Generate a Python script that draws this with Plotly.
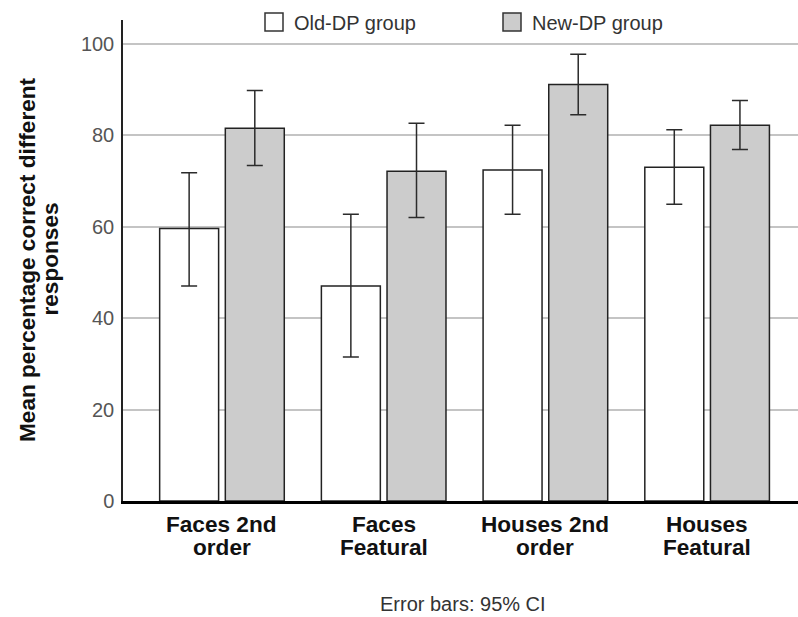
import plotly.graph_objects as go

categories = ["Faces 2nd order", "Faces Featural", "Houses 2nd order", "Houses Featural"]
cat_line1 = ["Faces 2nd", "Faces", "Houses 2nd", "Houses"]
cat_line2 = ["order", "Featural", "order", "Featural"]

old_mean = [59.6, 47.0, 72.4, 73.0]
old_ci_low = [47.0, 31.5, 62.7, 64.9]
old_ci_high = [71.8, 62.7, 82.2, 81.2]

new_mean = [81.5, 72.1, 91.1, 82.2]
new_ci_low = [73.4, 62.0, 84.5, 76.9]
new_ci_high = [89.8, 82.6, 97.7, 87.6]

y_ticks = [0, 20, 40, 60, 80, 100]

FONT = "Liberation Sans, Arial, sans-serif"
x_idx = list(range(len(categories)))

def err(mean, lo, hi):
    return dict(
        type="data", symmetric=False,
        array=[h - m for m, h in zip(mean, hi)],
        arrayminus=[m - l for m, l in zip(mean, lo)],
        color="#2b2b2b", thickness=1.5, width=8,
    )

fig = go.Figure()
fig.add_trace(go.Bar(
    x=x_idx, y=old_mean, name="Old-DP group",
    marker=dict(color="#ffffff", line=dict(color="#222222", width=1.5)),
    error_y=err(old_mean, old_ci_low, old_ci_high),
))
fig.add_trace(go.Bar(
    x=x_idx, y=new_mean, name="New-DP group",
    marker=dict(color="#cccccc", line=dict(color="#222222", width=1.5)),
    error_y=err(new_mean, new_ci_low, new_ci_high),
))

W, H = 798, 617
L, R, T, B = 123, 0, 20, 116
pw, ph = W - L - R, H - T - B

def px_x(p):
    return (p - L) / pw

def px_y(p):
    return (H - B - p) / ph

LABEL_SIZE = 22.6

annotations = []
for i in x_idx:
    annotations.append(dict(x=i, y=px_y(524), xref="x", yref="paper", text="<b>" + cat_line1[i] + "</b>",
                            showarrow=False, xanchor="center", yanchor="middle",
                            font=dict(family=FONT, size=LABEL_SIZE, color="#111111")))
    annotations.append(dict(x=i, y=px_y(547), xref="x", yref="paper", text="<b>" + cat_line2[i] + "</b>",
                            showarrow=False, xanchor="center", yanchor="middle",
                            font=dict(family=FONT, size=LABEL_SIZE, color="#111111")))

# y-axis title (two lines)
annotations.append(dict(x=px_x(27.5), y=px_y(259.5), xref="paper", yref="paper",
                        text="<b>Mean percentage correct different</b>", textangle=-90,
                        showarrow=False, xanchor="center", yanchor="middle",
                        font=dict(family=FONT, size=LABEL_SIZE, color="#111111")))
annotations.append(dict(x=px_x(50), y=px_y(259.5), xref="paper", yref="paper",
                        text="<b>responses</b>", textangle=-90,
                        showarrow=False, xanchor="center", yanchor="middle",
                        font=dict(family=FONT, size=LABEL_SIZE, color="#111111")))

# footnote
annotations.append(dict(x=px_x(463), y=px_y(604), xref="paper", yref="paper",
                        text="Error bars: 95% CI", showarrow=False,
                        xanchor="center", yanchor="middle",
                        font=dict(family=FONT, size=20, color="#333333")))

# legend (manual)
shapes = []
legend_items = [("Old-DP group", "#ffffff", 265), ("New-DP group", "#cccccc", 503)]
for name, col, x0 in legend_items:
    shapes.append(dict(type="rect", xref="paper", yref="paper",
                       x0=px_x(x0), x1=px_x(x0 + 18), y0=px_y(31), y1=px_y(13),
                       fillcolor=col, line=dict(color="#333333", width=1.5)))
    annotations.append(dict(x=px_x(x0 + 27), y=px_y(23), xref="paper", yref="paper",
                            text=name, showarrow=False, xanchor="left", yanchor="middle",
                            font=dict(family=FONT, size=20, color="#333333")))

fig.update_layout(
    width=W, height=H,
    margin=dict(l=L, r=R, t=T, b=B, pad=0),
    paper_bgcolor="white", plot_bgcolor="white",
    showlegend=False,
    barmode="group", bargap=0.188, bargroupgap=0.102,
    font=dict(family=FONT),
    annotations=annotations, shapes=shapes,
)
fig.update_xaxes(
    range=[-0.612, 3.562], tickvals=x_idx, showticklabels=False, ticks="",
    showgrid=False, zeroline=False,
    showline=True, linecolor="#000000", linewidth=3,
)
fig.update_yaxes(
    range=[0, 105.2], tickvals=y_ticks, ticktext=[str(v) for v in y_ticks],
    tickfont=dict(family=FONT, size=20, color="#555555"),
    ticks="", ticklabelstandoff=3,
    showgrid=True, gridcolor="#c4c4c4", gridwidth=1.5,
    zeroline=False,
    showline=True, linecolor="#222222", linewidth=1.5,
)

fig.write_html("out.html")
